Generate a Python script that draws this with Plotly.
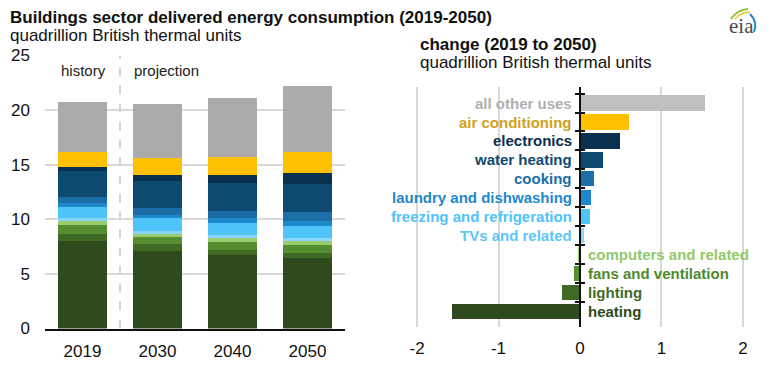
import plotly.graph_objects as go

# ---------------- data ----------------
years = ["2019", "2030", "2040", "2050"]
categories = ["heating", "lighting", "fans and ventilation", "computers and related",
              "TVs and related", "freezing and refrigeration", "laundry and dishwashing",
              "cooking", "water heating", "electronics", "air conditioning", "all other uses"]
heating = [8.00, 7.10, 6.72, 6.43]
lighting = [0.68, 0.60, 0.48, 0.46]
fans = [0.80, 0.65, 0.72, 0.72]
computers = [0.45, 0.42, 0.42, 0.44]
tvs = [0.15, 0.15, 0.18, 0.20]
freezing = [1.05, 1.22, 1.10, 1.17]
laundry = [0.32, 0.30, 0.46, 0.45]
cooking = [0.60, 0.62, 0.67, 0.77]
water_heating = [2.33, 2.43, 2.53, 2.61]
electronics = [0.45, 0.61, 0.76, 0.95]
air_conditioning = [1.32, 1.53, 1.70, 1.92]
all_other = [4.57, 4.94, 5.40, 6.12]
stack_values = [heating, lighting, fans, computers, tvs, freezing, laundry, cooking,
                water_heating, electronics, air_conditioning, all_other]

# change 2019 -> 2050 (top to bottom order in the right panel)
change_cats = ["all other uses", "air conditioning", "electronics", "water heating", "cooking",
               "laundry and dishwashing", "freezing and refrigeration", "TVs and related",
               "computers and related", "fans and ventilation", "lighting", "heating"]
change_vals = [1.53, 0.605, 0.495, 0.28, 0.17, 0.135, 0.12, 0.05, -0.01, -0.075, -0.22, -1.575]
left_ticks = [0, 5, 10, 15, 20, 25]
right_tickvals = [-2, -1, 0, 1, 2]
right_ticktext = ["-2", "-1", "0", "1", "2"]

# ---------------- styles ----------------
bar_colors = {
    "heating": "#2f4a1c", "lighting": "#3e6a26", "fans and ventilation": "#548e30",
    "computers and related": "#9acd6c", "TVs and related": "#8ad5fb",
    "freezing and refrigeration": "#4ec4fa", "laundry and dishwashing": "#1e88cc",
    "cooking": "#1c6ea6", "water heating": "#0e4a70", "electronics": "#0a3050",
    "air conditioning": "#ffc000", "all other uses": "#ababab",
}
label_colors = {
    "heating": "#2f4a1c", "lighting": "#3e6a26", "fans and ventilation": "#4e8a2c",
    "computers and related": "#92c96a", "TVs and related": "#5cc6f5",
    "freezing and refrigeration": "#4ec4fa", "laundry and dishwashing": "#1e88cc",
    "cooking": "#1c6ea6", "water heating": "#0e4a70", "electronics": "#0a3050",
    "air conditioning": "#d0a21e", "all other uses": "#b0b0b0",
}
FONT = "Liberation Sans, Arial, sans-serif"
OFF = 8                      # page body margin of the html page
W, H = 770 - OFF, 377 - OFF  # figure size so it fits in the window


def fx(px):
    return (px - OFF) / W


def fy(py):
    return 1 - (py - OFF) / H


fig = go.Figure()

for cat, vals in zip(categories, stack_values):
    fig.add_trace(go.Bar(x=years, y=vals, name=cat, marker_color=bar_colors[cat],
                         marker_line_width=0, width=0.66, xaxis="x", yaxis="y",
                         showlegend=False))

right_bar_colors = [bar_colors[c] if c != "all other uses" else "#bfbfbf" for c in change_cats]
fig.add_trace(go.Bar(x=change_vals, y=change_cats, orientation="h",
                     marker_color=right_bar_colors, marker_line_width=0, width=0.8,
                     xaxis="x2", yaxis="y2", showlegend=False))
# invisible trace for crossing tick marks on the zero axis
fig.add_trace(go.Scatter(x=[0] * len(change_cats), y=change_cats, mode="markers",
                         marker=dict(opacity=0), xaxis="x2", yaxis="y3",
                         showlegend=False, hoverinfo="skip"))

annotations = []
for cat, v in zip(change_cats, change_vals):
    pos = v > 0
    annotations.append(dict(x=0, y=cat, xref="x2", yref="y2", text="<b>%s</b>" % cat,
                            showarrow=False, xanchor="right" if pos else "left",
                            xshift=-6 if pos else 6,
                            font=dict(family=FONT, size=15, color=label_colors[cat])))

annotations += [
    dict(x=fx(8), y=fy(17.6), xref="paper", yref="paper", xanchor="left", yanchor="middle",
         text="<b>Buildings sector delivered energy consumption (2019-2050)</b>",
         showarrow=False, font=dict(family=FONT, size=17, color="#111111")),
    dict(x=fx(8), y=fy(35.8), xref="paper", yref="paper", xanchor="left", yanchor="middle",
         text="quadrillion British thermal units", showarrow=False,
         font=dict(family=FONT, size=17, color="#111111")),
    dict(x=fx(418), y=fy(44.6), xref="paper", yref="paper", xanchor="left", yanchor="middle",
         text="<b>change (2019 to 2050)</b>", showarrow=False,
         font=dict(family=FONT, size=17, color="#111111")),
    dict(x=fx(418), y=fy(62.6), xref="paper", yref="paper", xanchor="left", yanchor="middle",
         text="quadrillion British thermal units", showarrow=False,
         font=dict(family=FONT, size=17, color="#111111")),
    dict(x=fx(83.3), y=fy(70.8), xref="paper", yref="paper", xanchor="center", yanchor="middle",
         text="history", showarrow=False, font=dict(family=FONT, size=15, color="#222222")),
    dict(x=fx(131.7), y=fy(70.8), xref="paper", yref="paper", xanchor="left", yanchor="middle",
         text="projection", showarrow=False, font=dict(family=FONT, size=15, color="#222222")),
    dict(x=fx(741), y=fy(26), xref="paper", yref="paper", xanchor="center", yanchor="middle",
         text="eia", showarrow=False,
         font=dict(family="Liberation Serif, DejaVu Serif, serif", size=21, color="#4a4a4a")),
]

shapes = [
    dict(type="line", xref="x", yref="y", x0=0.5, x1=0.5, y0=0, y1=25,
         line=dict(color="#c8c8c8", width=1.5, dash="dash"), layer="below"),
    dict(type="path", xref="paper", yref="paper",
         path="M %f,%f Q %f,%f %f,%f" % (fx(731), fy(19), fx(737), fy(10), fx(748), fy(9)),
         line=dict(color="#8cc63f", width=2)),
    dict(type="path", xref="paper", yref="paper",
         path="M %f,%f Q %f,%f %f,%f" % (fx(735), fy(19), fx(741), fy(12), fx(750), fy(12)),
         line=dict(color="#f2c12e", width=1.5)),
    dict(type="path", xref="paper", yref="paper",
         path="M %f,%f Q %f,%f %f,%f" % (fx(750), fy(14), fx(758), fy(22), fx(754), fy(32)),
         line=dict(color="#1f88cc", width=2)),
]

grid = "#d9d9d9"
fig.update_layout(
    width=W, height=H, margin=dict(l=0, r=0, t=0, b=0, autoexpand=False),
    paper_bgcolor="white", plot_bgcolor="white",
    barmode="stack", showlegend=False,
    font=dict(family=FONT, size=17, color="#111111"),
    annotations=annotations, shapes=shapes,
    xaxis=dict(domain=[fx(45), fx(345)], type="category", categoryorder="array",
               categoryarray=years, anchor="y", showline=True, linecolor="#111111",
               linewidth=1.5, ticks="", showgrid=False, zeroline=False, automargin=False,
               tickfont=dict(size=17), ticklabelstandoff=6, fixedrange=True),
    yaxis=dict(domain=[fy(328.5), fy(55.5)], range=[0, 25], tickvals=left_ticks,
               anchor="x", showgrid=True, gridcolor=grid, gridwidth=1.5, zeroline=False,
               showline=False, ticks="", tickfont=dict(size=17), ticklabelstandoff=14,
               automargin=False),
    xaxis2=dict(domain=[fx(415.4), fx(744.6)], range=[-2.02, 2.02], anchor="y2",
                tickvals=right_tickvals, ticktext=right_ticktext, showgrid=True,
                gridcolor=grid, gridwidth=1.5, zeroline=False, showline=False, ticks="",
                tickfont=dict(size=17), ticklabelstandoff=9, automargin=False),
    yaxis2=dict(domain=[fy(327.3), fy(87.3)], type="category", categoryorder="array",
                categoryarray=change_cats, autorange="reversed", anchor="free",
                position=fx(580), showline=True, linecolor="#111111", linewidth=1.5,
                ticks="outside", ticklen=4, tickwidth=1.5, tickcolor="#111111",
                tickson="boundaries", showticklabels=False, showgrid=False, zeroline=False,
                automargin=False),
    yaxis3=dict(overlaying="y2", matches="y2", type="category", categoryorder="array",
                categoryarray=change_cats, autorange="reversed", anchor="free",
                position=fx(580), showline=False, ticks="inside", ticklen=4, tickwidth=1.5,
                tickcolor="#111111", tickson="boundaries", showticklabels=False,
                showgrid=False, zeroline=False, automargin=False),
)

fig.write_html("out.html")
